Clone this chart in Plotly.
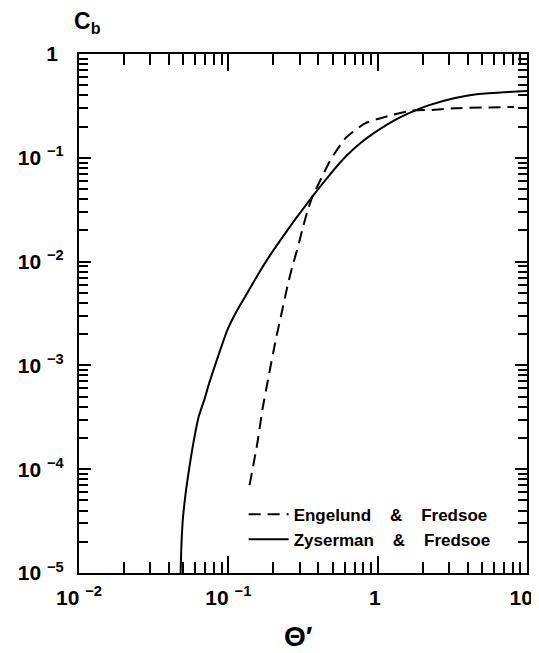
import plotly.graph_objects as go

# ---- data ----
zf_theta = [0.0479, 0.0484, 0.0496, 0.0522, 0.0550, 0.0578, 0.0634, 0.0692, 0.0747, 0.0798,
            0.0871, 0.0989, 0.1153, 0.1345, 0.161, 0.1877, 0.2424, 0.2827, 0.3648, 0.4715,
            0.609, 0.786, 1.016, 1.312, 1.693, 2.188, 3.296, 4.713, 10.0]
zf_cb = [1.0e-5, 1.70e-5, 3.30e-5, 6.42e-5, 1.07e-4, 1.66e-4, 3.23e-4, 4.71e-4, 6.87e-4, 9.16e-4,
         1.33e-3, 2.22e-3, 3.45e-3, 5.03e-3, 7.84e-3, 0.01117, 0.0190, 0.0259, 0.0422, 0.0671,
         0.1022, 0.1426, 0.1858, 0.232, 0.277, 0.320, 0.3775, 0.4125, 0.44]

ef_theta = [0.1387, 0.1568, 0.1693, 0.1856, 0.2080, 0.2301, 0.2484, 0.2684, 0.2929, 0.3128,
            0.3379, 0.3631, 0.4043, 0.4839, 0.609, 0.828, 1.184, 1.693, 2.301, 3.296, 8.19]
ef_cb = [7.02e-5, 1.82e-4, 3.78e-4, 7.67e-4, 1.78e-3, 3.45e-3, 5.75e-3, 8.95e-3, 0.01394, 0.0203,
         0.0303, 0.0412, 0.0571, 0.0957, 0.1546, 0.2157, 0.2535, 0.285, 0.2895, 0.3006, 0.309]

NB = "\u00a0"
x_tickvals = [0.01, 0.1, 1, 10]
x_ticktext = ["10" + NB + "<sup>\u22122</sup>", "10" + NB + "<sup>\u22121</sup>", "1" + NB, "10" + NB * 2]
y_tickvals = [1e-5, 1e-4, 1e-3, 1e-2, 1e-1, 1]
y_ticktext = ["10" + NB + "<sup>\u22125</sup>", "10" + NB + "<sup>\u22124</sup>",
              "10" + NB + "<sup>\u22123</sup>", "10" + NB + "<sup>\u22122</sup>",
              "10" + NB + "<sup>\u22121</sup>", "1" + NB]

minor_vals = [m * 10.0 ** e for e in range(-5, 1) for m in range(2, 10)]

FONT = "Liberation Sans"
SP = NB * 4

fig = go.Figure()
fig.add_trace(go.Scatter(x=ef_theta, y=ef_cb, mode="lines",
                         name="Engelund" + SP + "&amp;" + SP + "Fredsoe",
                         line=dict(color="black", width=2, dash="12px,7px",
                                   shape="spline", smoothing=0.5)))
fig.add_trace(go.Scatter(x=zf_theta, y=zf_cb, mode="lines",
                         name="Zyserman" + SP + "&amp;" + SP + "Fredsoe",
                         line=dict(color="black", width=2, shape="spline", smoothing=0.5)))

axis_common = dict(showgrid=False, zeroline=False, showline=True, linecolor="black",
                   linewidth=2, ticks="inside", tickcolor="black", tickwidth=2,
                   mirror="allticks", tickmode="array", automargin=False,
                   tickfont=dict(family=FONT, size=21, color="black", weight="bold"))

fig.update_xaxes(type="log", range=[-2, 1], tickvals=x_tickvals, ticktext=x_ticktext,
                 ticklen=17, ticklabelstandoff=5,
                 minor=dict(ticks="inside", ticklen=11, tickwidth=2, tickcolor="black",
                            tickvals=minor_vals, showgrid=False),
                 **axis_common)
fig.update_yaxes(type="log", range=[-5, 0], tickvals=y_tickvals, ticktext=y_ticktext,
                 ticklen=12, ticklabelstandoff=9,
                 minor=dict(ticks="inside", ticklen=9, tickwidth=2, tickcolor="black",
                            tickvals=minor_vals, showgrid=False),
                 **axis_common)

fig.update_layout(
    width=539, height=653,
    margin=dict(l=71, r=20, t=46, b=88),
    paper_bgcolor="white", plot_bgcolor="white",
    showlegend=True,
    legend=dict(x=0.93, y=0.147, xanchor="right", yanchor="top",
                bgcolor="rgba(0,0,0,0)", borderwidth=0,
                font=dict(family=FONT, size=17, color="black", weight="bold"),
                tracegroupgap=0, itemwidth=40),
    annotations=[
        dict(text="C<sub>b</sub>", xref="paper", yref="paper", x=-0.016, y=1.093,
             xanchor="left", yanchor="top", showarrow=False,
             font=dict(family=FONT, size=23, color="black", weight="bold")),
        dict(text="\u0398\u2032", xref="paper", yref="paper", x=0.489, y=-0.123,
             xanchor="center", yanchor="middle", showarrow=False,
             font=dict(family=FONT, size=28, color="black", weight="bold")),
    ],
)

fig.write_html("out.html")
